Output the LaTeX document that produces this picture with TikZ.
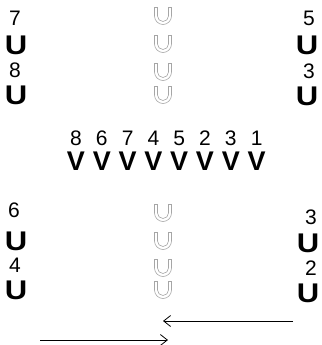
\documentclass[tikz,border=0pt]{standalone}
\usepackage{fontspec}
\setmainfont{Liberation Sans}
\usetikzlibrary{arrows.meta,positioning}
\tikzset{
  >={Straight Barb[length=7pt,width=11pt]},
  num/.style={font=\fontsize{21}{21}\selectfont, inner sep=0pt, text height=0.72em, text depth=0pt},
  magnet/.style={font=\bfseries\fontsize{27}{27}\selectfont, inner sep=0pt, xscale=1.15},
  vee/.style={font=\bfseries\fontsize{27}{27}\selectfont, inner sep=0pt},
  hollow u/.pic={
    \draw[gray!70, line width=0.6pt]
      (-8.5,8.5) -- (-8.5,0) arc (180:360:8.5) -- (8.5,8.5) -- (5.5,8.5) -- (5.5,0)
      arc (0:-180:5.5) -- (-5.5,8.5) -- cycle;
  },
}
\begin{document}
\begin{tikzpicture}[x=1pt, y=1pt]
  \useasboundingbox (0,0) rectangle (321,-345);

  % top left and right
  \node[num] (n7) at (15,-21.5) {7};
  \node[magnet] (u7) at (16,-45.5) {U};
  \node[num] (n8) at (15,-74) {8};
  \node[magnet] (u8) at (16,-95) {U};
  \node[num] (n5) at (309,-21.5) {5};
  \node[magnet] (u5) at (307,-45.5) {U};
  \node[num] (n3) at (309,-75) {3};
  \node[magnet] (u3) at (307,-96) {U};

  % centre column, top
  \foreach \y [count=\i] in {-16,-44,-72,-95}
    \pic (ht\i) at (163,\y) {hollow u};

  % row of magnets
  \foreach \n [count=\i] in {8,6,7,4,5,2,3,1} {
    \node[num] (r\i) at (76+25.8*\i-25.8,-141.5) {\n};
    \node[vee, below=6pt of r\i] (v\i) {V};
  }

  % bottom left and right
  \node[num] (n6) at (14,-214) {6};
  \node[magnet] (u6) at (16,-241.5) {U};
  \node[num] (n4) at (15,-268.5) {4};
  \node[magnet] (u4) at (16,-290.5) {U};
  \node[num] (n3b) at (311,-221) {3};
  \node[magnet] (u3b) at (308,-243) {U};
  \node[num] (n2) at (311,-271.5) {2};
  \node[magnet] (u2) at (308,-293) {U};

  % centre column, bottom
  \foreach \y [count=\i] in {-213,-241,-268,-290}
    \pic (hb\i) at (163,\y) {hollow u};

  % arrows
  \coordinate (a1s) at (293,-321);
  \coordinate (a1e) at (163,-321);
  \coordinate (a2s) at (40,-340);
  \coordinate (a2e) at (168,-340);
  \draw[->, line width=0.8pt] (a1s) -- (a1e);
  \draw[->, line width=0.8pt] (a2s) -- (a2e);
\end{tikzpicture}
\end{document}
